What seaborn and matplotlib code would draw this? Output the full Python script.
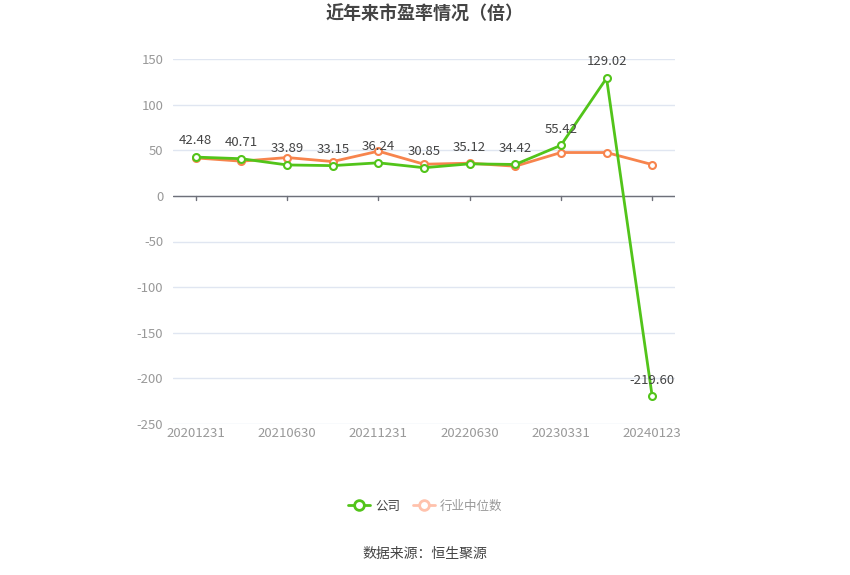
import matplotlib
matplotlib.use("Agg")
import matplotlib.pyplot as plt
from matplotlib.lines import Line2D
import seaborn as sns
import numpy as np
import pandas as pd

dates = ["20201231", "20210331", "20210630", "20210930", "20211231", "20220331",
         "20220630", "20221231", "20230331", "20230930", "20240123"]
company = [42.48, 40.71, 33.89, 33.15, 36.24, 30.85, 35.12, 34.42, 55.42, 129.02, -219.60]
industry = [41.6, 38.0, 42.0, 37.6, 49.0, 34.7, 35.8, 32.5, 47.5, 47.5, 34.3]
yticks = [150, 100, 50, 0, -50, -100, -150, -200, -250]

sns.set_theme(style="white")
plt.rcParams['font.family'] = ['Noto Sans CJK SC', 'DejaVu Sans']

green = '#52c41a'
orange = '#f7844d'

fig = plt.figure(figsize=(8.5, 5.75), dpi=100)
ax = fig.add_axes([173/850, 1-424/575, (675-173)/850, (424-59)/575])

x = np.arange(len(dates))
df = pd.DataFrame({"x": x, "company": company, "industry": industry})

sns.lineplot(data=df, x="x", y="industry", ax=ax, color=orange, linewidth=2,
             marker='o', markersize=5, markerfacecolor='white', markeredgecolor=orange,
             markeredgewidth=1.5, zorder=3)
sns.lineplot(data=df, x="x", y="company", ax=ax, color=green, linewidth=2,
             marker='o', markersize=5, markerfacecolor='white', markeredgecolor=green,
             markeredgewidth=1.5, zorder=4)

for xi, v in zip(x, company):
    ax.annotate(f"{v:.2f}", (xi, v), xytext=(0, 7), textcoords='offset points',
                ha='center', va='bottom', fontsize=9.5, color='#444444', zorder=5)

ax.set_xlim(-0.5, len(dates) - 0.5)
ax.set_ylim(-250, 150)
ax.set_yticks(yticks)
ax.set_yticklabels([str(t) for t in yticks], fontsize=9.5, color='#999999')
ax.yaxis.grid(True, color='#E0E6F1', linewidth=1)
ax.set_axisbelow(True)
ax.tick_params(axis='y', length=0, pad=7)

ax.set_xticks(x[::2])
ax.set_xticklabels([dates[i] for i in range(0, len(dates), 2)], fontsize=9.5, color='#999999')
ax.tick_params(axis='x', length=0, pad=2)
ax.set_xlabel("")
ax.set_ylabel("")
for s in ax.spines.values():
    s.set_visible(False)

# zero axis line with tick marks
ax.axhline(0, color='#6E7079', linewidth=1, zorder=2)
for xi in x[::2]:
    ax.plot([xi, xi], [0, -5], color='#6E7079', linewidth=1, zorder=2, clip_on=False)

fig.text(0.5, 1 - 14/575, "近年来市盈率情况（倍）", ha='center', va='center',
         fontsize=13, fontweight='bold', color='#444444')

handles = [
    Line2D([0], [0], color=green, linewidth=2, marker='o', markersize=7,
           markerfacecolor='white', markeredgecolor=green, markeredgewidth=2),
    Line2D([0], [0], color='#FFC2AC', linewidth=2, marker='o', markersize=7,
           markerfacecolor='white', markeredgecolor='#FFC2AC', markeredgewidth=2),
]
leg = fig.legend(handles, ["公司", "行业中位数"], loc='center', bbox_to_anchor=(0.5, 1 - 506/575),
                 ncol=2, frameon=False, fontsize=9, handlelength=1.8, columnspacing=1.0,
                 handletextpad=0.4)
leg.get_texts()[0].set_color('#444444')
leg.get_texts()[1].set_color('#999999')

fig.text(0.5, 1 - 554/575, "数据来源：恒生聚源", ha='center', va='center',
         fontsize=10, color='#444444')

fig.savefig("out.png", dpi=100)
